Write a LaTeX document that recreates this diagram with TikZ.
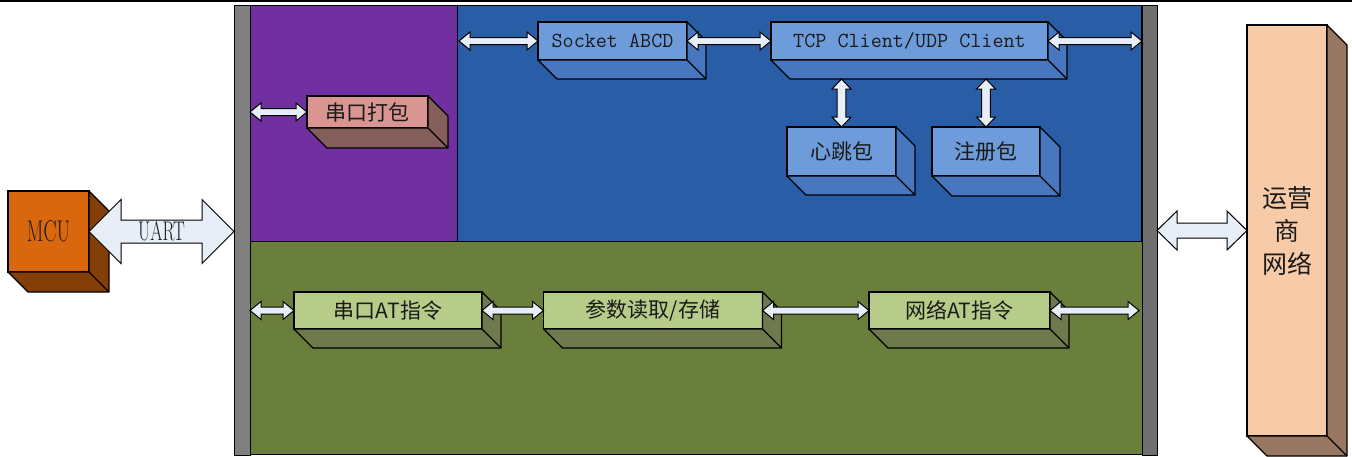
\documentclass[tikz,border=0pt]{standalone}
\usepackage{fontspec}
\usepackage{graphicx}
\newfontfamily\cjk{Noto Sans CJK SC}
\usetikzlibrary{calc}
\definecolor{barL}{HTML}{808080}
\definecolor{barR}{HTML}{6F6F6F}
\definecolor{regPurple}{HTML}{7030A0}
\definecolor{regBlue}{HTML}{295EA6}
\definecolor{regGreen}{HTML}{6A7F3B}
\definecolor{bluF}{HTML}{6E9BDA}
\definecolor{bluS}{HTML}{4877C0}
\definecolor{grnF}{HTML}{B7CC88}
\definecolor{grnS}{HTML}{6E7A4E}
\definecolor{pnkF}{HTML}{D99592}
\definecolor{pnkS}{HTML}{835E5A}
\definecolor{pchF}{HTML}{F8CBA8}
\definecolor{pchS}{HTML}{987862}
\definecolor{mcuF}{HTML}{D9670E}
\definecolor{mcuS}{HTML}{833F07}
\definecolor{arrF}{HTML}{E8EEF8}
\definecolor{txt}{HTML}{1A1A1A}
\newcommand\boxside[3]{%
  \draw[sideface,fill=#3] (#1.north east) -- ++(#2,#2) -- ($(#1.south east)+(#2,#2)$) -- ($(#1.south west)+(#2,#2)$) -- (#1.south west) -- (#1.south east) -- cycle;
  \draw[sideface] (#1.south east) -- ++(#2,#2);}
\newcommand\harr[5]{%
  \path[blockarr] let \p1=(#1), \p2=(#2) in
  (\x1,\y1) -- (\x1+#3,\y1+#4) -- (\x1+#3,\y1+#5) -- (\x2-#3,\y1+#5) -- (\x2-#3,\y1+#4) -- (\x2,\y1)
  -- (\x2-#3,\y1-#4) -- (\x2-#3,\y1-#5) -- (\x1+#3,\y1-#5) -- (\x1+#3,\y1-#4) -- cycle;}
\newcommand\varr[5]{%
  \path[blockarr] let \p1=(#1), \p2=(#2) in
  (\x1,\y1) -- (\x1+#4,\y1-#3) -- (\x1+#5,\y1-#3) -- (\x1+#5,\y2+#3) -- (\x1+#4,\y2+#3) -- (\x1,\y2)
  -- (\x1-#4,\y2+#3) -- (\x1-#5,\y2+#3) -- (\x1-#5,\y1-#3) -- (\x1-#4,\y1-#3) -- cycle;}
\tikzset{
  region/.style={draw=black, line width=1pt, inner sep=0pt, outer sep=0pt},
  front/.style={draw=black, line width=1.2pt, inner sep=0pt, outer sep=0pt, text=txt},
  sideface/.style={draw=black, line width=1.2pt, line join=round},
  blockarr/.style={draw=black, fill=arrF, line width=1pt, line join=miter},
  cjkfont/.style={font=\cjk\fontsize{21}{24}\selectfont},
  monofont/.style={font=\ttfamily\fontsize{21.5}{24}\selectfont},
}
\begin{document}
\begin{tikzpicture}[x=1pt,y=-1pt]
\useasboundingbox (0,0) rectangle (1352,456);
\fill[white] (0,0) rectangle (1352,456);
\draw[line width=2.4pt] (0,1.2) -- (1352,1.2);
% regions
\node[region, fill=regPurple, minimum width=207, minimum height=236] (purple) at (353.5,123) {};
\node[region, fill=regBlue, minimum width=684, minimum height=236] (blue) at (799,123) {};
\node[region, fill=regGreen, minimum width=892, minimum height=213] (green) at (696,347.5) {};
\node[region, fill=barL, minimum width=16, minimum height=450] (leftbar) at (242,230) {};
\node[region, fill=barR, minimum width=15, minimum height=450] (rightbar) at (1149.5,230) {};
% boxes
\node[front, fill=mcuF, minimum width=81, minimum height=81,
      font=\fontsize{30}{30}\selectfont] (mcu) at (48.5,231.5) {\scalebox{0.65}[1]{MCU}};
\boxside{mcu}{20}{mcuS}
\node[front, fill=pnkF, minimum width=121, minimum height=32, cjkfont] (pack) at (367.5,112) {串口打包};
\boxside{pack}{20}{pnkS}
\node[front, fill=bluF, minimum width=149, minimum height=38, monofont] (socket) at (612.5,41) {Socket ABCD};
\boxside{socket}{19}{bluS}
\node[front, fill=bluF, minimum width=277, minimum height=38, monofont] (tcp) at (909.5,41) {TCP Client/UDP Client};
\boxside{tcp}{19}{bluS}
\node[front, fill=bluF, minimum width=109, minimum height=49, cjkfont] (heart) at (841.5,151.5) {心跳包};
\boxside{heart}{19}{bluS}
\node[front, fill=bluF, minimum width=108, minimum height=49, cjkfont] (reg) at (986,151.5) {注册包};
\boxside{reg}{20}{bluS}
\node[front, fill=grnF, minimum width=188, minimum height=37, cjkfont] (atcmd) at (388,310.5) {串口AT指令};
\boxside{atcmd}{19}{grnS}
\node[front, fill=grnF, minimum width=219, minimum height=37, cjkfont] (param) at (653,310.5) {参数读取/存储};
\boxside{param}{19}{grnS}
\node[front, fill=grnF, minimum width=181, minimum height=37, cjkfont] (netat) at (959.5,310.5) {网络AT指令};
\boxside{netat}{19}{grnS}
\node[front, fill=pchF, minimum width=80, minimum height=411, align=center,
      font=\cjk\fontsize{25}{33}\selectfont] (yys) at (1287,230.5) {运营\\商\\网络};
\boxside{yys}{20}{pchS}
% connectors
\coordinate (tcpb1) at ($(tcp.south -| heart.north)+(0,19)$);
\coordinate (tcpb2) at ($(tcp.south -| reg.north)+(0,19)$);
\harr{mcu.east}{leftbar.west |- mcu.east}{32pt}{32pt}{11.5pt}
\node[font=\fontsize{27}{27}\selectfont, text=txt, inner sep=0pt] (uart) at ($(mcu.east)!0.5!(leftbar.west |- mcu.east)$) {\scalebox{0.65}[1]{UART}};
\harr{rightbar.east |- yys.west}{yys.west}{20pt}{19.5pt}{7.5pt}
\harr{leftbar.east |- pack.west}{pack.west}{11pt}{9pt}{3.5pt}
\harr{$(blue.west |- socket.west)+(2,0)$}{socket.west}{11pt}{9pt}{3.5pt}
\harr{socket.east}{tcp.west}{11pt}{9pt}{3.5pt}
\harr{tcp.east}{rightbar.west |- tcp.east}{11pt}{9pt}{3.5pt}
\varr{tcpb1}{heart.north}{10pt}{9.5pt}{4.3pt}
\varr{tcpb2}{reg.north}{10pt}{9.5pt}{4.3pt}
\harr{leftbar.east |- atcmd.west}{atcmd.west}{11pt}{9pt}{3.5pt}
\harr{atcmd.east}{param.west}{11pt}{9pt}{3.5pt}
\harr{param.east}{netat.west}{11pt}{9pt}{3.5pt}
\harr{netat.east}{$(rightbar.west |- netat.east)+(-3,0)$}{11pt}{9pt}{3.5pt}
\end{tikzpicture}
\end{document}
